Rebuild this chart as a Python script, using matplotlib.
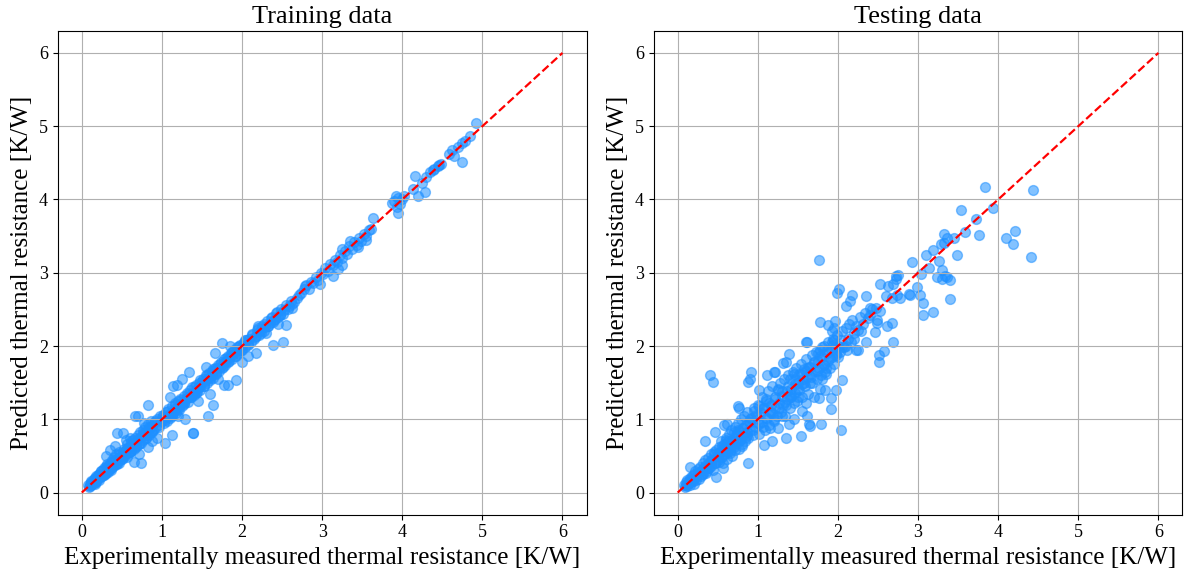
import numpy as np
import matplotlib
matplotlib.use("Agg")
import matplotlib.pyplot as plt

plt.rcParams['font.family'] = ['Liberation Serif', 'DejaVu Serif']

# ---- training data (measured, predicted) ----
train_measured = [
    0.08, 0.09, 0.10, 0.10, 0.11, 0.12, 0.12, 0.13, 0.14, 0.15,
    0.15, 0.16, 0.17, 0.18, 0.18, 0.19, 0.20, 0.21, 0.22, 0.22,
    0.23, 0.24, 0.25, 0.26, 0.27, 0.28, 0.29, 0.30, 0.30, 0.31,
    0.32, 0.33, 0.34, 0.35, 0.36, 0.37, 0.38, 0.38, 0.39, 0.40,
    0.41, 0.42, 0.43, 0.44, 0.45, 0.46, 0.47, 0.48, 0.49, 0.50,
    0.51, 0.52, 0.53, 0.54, 0.55, 0.56, 0.57, 0.58, 0.59, 0.60,
    0.61, 0.62, 0.63, 0.64, 0.65, 0.66, 0.67, 0.68, 0.69, 0.70,
    0.71, 0.72, 0.73, 0.74, 0.75, 0.76, 0.77, 0.78, 0.79, 0.80,
    0.81, 0.82, 0.83, 0.84, 0.85, 0.86, 0.87, 0.88, 0.89, 0.90,
    0.92, 0.94, 0.96, 0.98, 1.00,
    1.01, 1.02, 1.03, 1.05, 1.06, 1.07, 1.08, 1.10, 1.11, 1.12,
    1.13, 1.15, 1.16, 1.17, 1.18, 1.20, 1.21, 1.22, 1.23, 1.25,
    1.26, 1.27, 1.28, 1.30, 1.31, 1.32, 1.33, 1.35, 1.36, 1.37,
    1.38, 1.40, 1.41, 1.42, 1.43, 1.45, 1.46, 1.47, 1.48, 1.50,
    1.51, 1.52, 1.54, 1.55, 1.56, 1.58, 1.59, 1.60, 1.62, 1.63,
    1.64, 1.66, 1.67, 1.68, 1.70, 1.71, 1.72, 1.74, 1.75, 1.76,
    1.78, 1.79, 1.80, 1.82, 1.83, 1.84, 1.86, 1.87, 1.88, 1.90,
    1.91, 1.92, 1.94, 1.95, 1.96, 1.98, 1.99, 2.00, 2.02, 2.04,
    2.05, 2.07, 2.09, 2.11, 2.13, 2.15, 2.17, 2.19, 2.21, 2.23,
    2.25, 2.27, 2.29, 2.31, 2.33, 2.35, 2.37, 2.39, 2.41, 2.43,
    2.45, 2.47, 2.49, 2.51, 2.53, 2.55, 2.57, 2.59, 2.61, 2.63,
    2.65, 2.68, 2.71, 2.74, 2.77,
    2.80, 2.83, 2.86, 2.89, 2.92, 2.95, 2.98, 3.01, 3.04, 3.07,
    3.10, 3.13, 3.16, 3.19, 3.22, 3.25, 3.28, 3.31, 3.34, 3.37,
    3.40, 3.43, 3.46, 3.49, 3.52, 3.55, 3.58, 3.61, 3.25, 3.35,
    # second pass through the dense band
    0.12, 0.16, 0.20, 0.24, 0.28, 0.32, 0.36, 0.40, 0.44, 0.48,
    0.52, 0.56, 0.60, 0.64, 0.68, 0.72, 0.76, 0.80, 0.84, 0.88,
    0.92, 0.96, 1.00, 1.04, 1.08, 1.12, 1.16, 1.20, 1.24, 1.28,
    1.32, 1.36, 1.40, 1.44, 1.48, 1.52, 1.56, 1.60, 1.64, 1.68,
    1.72, 1.76, 1.80, 1.84, 1.88, 1.92, 1.96, 2.00, 2.04, 2.08,
    2.12, 2.16, 2.20, 2.24, 2.28, 2.32, 2.36, 2.40, 2.44, 2.48,
    # scattered points
    0.44, 0.51, 0.41, 0.35, 0.30,
    0.74, 0.65, 0.83, 0.94, 0.66, 0.70, 0.83, 0.60, 0.72, 0.55, 0.78, 0.88,
    1.13, 1.04, 1.39, 1.39, 1.29, 1.57, 1.64, 1.14, 1.19, 1.25, 1.34, 1.20, 1.45, 1.10,
    1.75, 1.66, 1.77, 1.83, 1.92, 2.00, 2.07, 2.18, 1.60, 1.70, 1.85, 1.55,
    2.55, 2.51, 2.39, 2.78, 2.30, 2.45, 2.62, 2.20,
    2.97, 3.14, 3.25, 3.64, 3.20, 3.45, 3.55,
    3.87, 3.92, 3.95, 3.97, 3.95, 4.00, 3.90, 4.02, 3.93,
    4.14, 4.16, 4.20, 4.28, 4.25, 4.30,
    4.35, 4.40, 4.44, 4.48, 4.38, 4.46,
    4.58, 4.62, 4.65, 4.70, 4.75, 4.78, 4.74, 4.84, 4.92,
]
train_predicted = [
    0.10, 0.08, 0.12, 0.09, 0.13, 0.11, 0.15, 0.12, 0.16, 0.13,
    0.18, 0.14, 0.20, 0.15, 0.22, 0.18, 0.24, 0.17, 0.26, 0.20,
    0.21, 0.29, 0.23, 0.31, 0.24, 0.33, 0.26, 0.36, 0.27, 0.30,
    0.39, 0.28, 0.37, 0.32, 0.42, 0.33, 0.45, 0.35, 0.36, 0.48,
    0.38, 0.44, 0.52, 0.40, 0.47, 0.41, 0.55, 0.44, 0.50, 0.46,
    0.55, 0.47, 0.60, 0.50, 0.58, 0.49, 0.66, 0.54, 0.62, 0.56,
    0.70, 0.57, 0.64, 0.72, 0.59, 0.68, 0.75, 0.62, 0.71, 0.78,
    0.66, 0.74, 0.82, 0.68, 0.77, 0.86, 0.72, 0.80, 0.90, 0.75,
    0.84, 0.79, 0.93, 0.78, 0.88, 0.97, 0.82, 0.91, 0.85, 0.95,
    0.88, 1.00, 0.92, 1.04, 0.97,
    1.06, 0.95, 1.02, 1.10, 0.98, 1.05, 1.14, 1.02, 1.09, 1.18,
    1.06, 1.12, 1.22, 1.08, 1.16, 1.25, 1.13, 1.20, 1.28, 1.18,
    1.24, 1.32, 1.21, 1.28, 1.36, 1.24, 1.31, 1.40, 1.30, 1.35,
    1.44, 1.33, 1.39, 1.47, 1.36, 1.43, 1.50, 1.40, 1.46, 1.52,
    1.55, 1.46, 1.52, 1.60, 1.50, 1.57, 1.63, 1.54, 1.66, 1.60,
    1.57, 1.70, 1.62, 1.68, 1.74, 1.66, 1.72, 1.78, 1.70, 1.76,
    1.82, 1.74, 1.80, 1.86, 1.78, 1.84, 1.90, 1.82, 1.88, 1.94,
    1.86, 1.92, 1.98, 1.90, 1.95, 2.02, 1.94, 2.00, 2.05, 1.98,
    2.08, 2.02, 2.10, 2.05, 2.16, 2.09, 2.14, 2.22, 2.15, 2.20,
    2.28, 2.21, 2.26, 2.34, 2.27, 2.32, 2.40, 2.33, 2.37, 2.45,
    2.39, 2.43, 2.50, 2.44, 2.49, 2.56, 2.50, 2.54, 2.62, 2.57,
    2.60, 2.66, 2.70, 2.73, 2.78,
    2.83, 2.78, 2.88, 2.86, 2.94, 2.90, 3.00, 2.98, 3.06, 3.03,
    3.12, 3.10, 3.18, 3.14, 3.24, 3.20, 3.30, 3.26, 3.36, 3.32,
    3.42, 3.38, 3.47, 3.44, 3.53, 3.50, 3.58, 3.60, 3.32, 3.44,
    # second pass through the dense band
    0.16, 0.12, 0.22, 0.30, 0.24, 0.35, 0.31, 0.43, 0.39, 0.53,
    0.50, 0.61, 0.55, 0.68, 0.64, 0.66, 0.81, 0.74, 0.89, 0.82,
    0.97, 0.90, 1.03, 0.99, 1.12, 1.05, 1.20, 1.14, 1.27, 1.22,
    1.35, 1.30, 1.44, 1.37, 1.53, 1.45, 1.60, 1.56, 1.68, 1.63,
    1.76, 1.71, 1.84, 1.79, 1.92, 1.87, 2.00, 1.95, 2.08, 2.03,
    2.15, 2.12, 2.24, 2.18, 2.30, 2.27, 2.38, 2.35, 2.46, 2.42,
    # scattered points
    0.81, 0.81, 0.64, 0.58, 0.50,
    0.41, 0.42, 0.62, 0.74, 1.04, 1.04, 1.20, 0.75, 0.52, 0.72, 0.95, 0.70,
    0.78, 0.67, 0.81, 0.81, 1.01, 1.04, 1.20, 1.46, 1.47, 1.55, 1.65, 1.05, 1.25, 1.30,
    2.04, 1.90, 1.47, 1.47, 1.54, 1.78, 1.86, 1.90, 1.35, 1.55, 2.00, 1.72,
    2.29, 2.06, 2.02, 2.82, 2.18, 2.30, 2.52, 2.28,
    2.84, 2.96, 3.11, 3.75, 3.05, 3.35, 3.45,
    3.95, 4.05, 4.02, 3.94, 3.82, 4.00, 3.98, 4.05, 3.90,
    4.14, 4.32, 4.05, 4.10, 4.22, 4.30,
    4.38, 4.42, 4.45, 4.48, 4.40, 4.47,
    4.62, 4.68, 4.60, 4.72, 4.77, 4.80, 4.51, 4.87, 5.05,
]

# ---- testing data ----
test_measured = [
    0.08, 0.09, 0.10, 0.10, 0.11, 0.12, 0.12, 0.13, 0.14, 0.15,
    0.15, 0.16, 0.17, 0.18, 0.19, 0.20, 0.20, 0.21, 0.22, 0.23,
    0.24, 0.25, 0.26, 0.27, 0.28, 0.29, 0.30, 0.31, 0.32, 0.33,
    0.34, 0.35, 0.36, 0.37, 0.38, 0.39, 0.40, 0.41, 0.42, 0.43,
    0.44, 0.45, 0.46, 0.48, 0.50,
    0.51, 0.52, 0.53, 0.54, 0.55, 0.56, 0.57, 0.58, 0.59, 0.60,
    0.61, 0.62, 0.63, 0.64, 0.65, 0.66, 0.67, 0.68, 0.69, 0.70,
    0.71, 0.72, 0.73, 0.74, 0.75, 0.76, 0.77, 0.78, 0.79, 0.80,
    0.81, 0.82, 0.83, 0.84, 0.85, 0.86, 0.87, 0.88, 0.89, 0.90,
    0.92, 0.94, 0.95, 0.97, 0.99,
    1.00, 1.01, 1.02, 1.04, 1.05, 1.06, 1.08, 1.09, 1.10, 1.12,
    1.13, 1.14, 1.16, 1.17, 1.18, 1.20, 1.21, 1.22, 1.24, 1.25,
    1.26, 1.28, 1.29, 1.30, 1.32, 1.33, 1.34, 1.36, 1.37, 1.38,
    1.40, 1.41, 1.42, 1.44, 1.45, 1.46, 1.47, 1.48, 1.49, 1.50,
    1.51, 1.52, 1.54, 1.55, 1.56, 1.58, 1.59, 1.60, 1.62, 1.63,
    1.64, 1.66, 1.67, 1.68, 1.70, 1.71, 1.72, 1.74, 1.75, 1.76,
    1.78, 1.79, 1.80, 1.82, 1.83, 1.84, 1.86, 1.87, 1.88, 1.90,
    1.91, 1.92, 1.94, 1.95, 1.96, 1.98, 1.99, 2.00, 2.02, 2.04,
    2.05, 2.07, 2.10, 2.12, 2.14, 2.16, 2.18, 2.20, 2.22, 2.25,
    2.28, 2.31, 2.34, 2.37, 2.40,
    # second pass through the dense band
    0.30, 0.34, 0.38, 0.42, 0.46, 0.50, 0.54, 0.58, 0.62, 0.66,
    0.70, 0.74, 0.78, 0.82, 0.86, 0.90, 0.94, 0.98, 1.02, 1.06,
    1.10, 1.14, 1.18, 1.22, 1.26, 1.30, 1.34, 1.38, 1.42, 1.46,
    1.50, 1.54, 1.58, 1.62, 1.66, 1.70, 1.74, 1.78, 1.82, 1.86,
    1.90, 1.94, 1.98, 0.45, 0.55, 0.65, 0.75, 0.85, 0.95, 1.05,
    1.15, 1.25, 1.35, 1.45, 1.55, 1.65, 1.75, 1.85, 1.95, 0.60,
    0.80, 1.00, 1.20, 1.40, 1.60, 1.80, 2.00, 0.70, 0.90, 1.10,
    # scattered points
    3.83, 4.44, 3.53, 3.93, 3.72, 3.59, 3.32, 3.36, 3.76, 4.10, 4.21, 4.18,
    4.41, 3.45, 3.29, 3.33, 3.19, 3.10, 3.49, 3.26, 3.30, 3.14, 2.92, 3.04,
    3.24, 3.30, 3.36, 3.40, 3.34, 2.73, 2.75, 2.72, 2.63, 2.69, 2.52, 2.99,
    2.89, 2.90, 3.03, 3.06, 3.40, 3.06, 3.19, 2.60, 2.68, 2.78, 2.74,
    1.76, 2.01, 1.99, 2.18, 2.15, 2.10, 2.35, 2.43, 2.52, 2.47, 2.40, 2.49,
    2.49, 2.61, 2.67, 2.46, 2.69, 2.35, 2.51, 2.51, 2.57, 2.29, 2.23, 2.25,
    2.05, 2.11, 1.77, 1.87, 1.96, 1.92, 1.92, 2.05, 1.97, 1.91, 1.91,
    2.04, 1.79, 1.64, 1.65, 1.54, 1.61, 1.35, 1.39, 1.76, 1.78, 1.84,
    0.40, 0.44, 0.92, 0.90, 0.88, 1.12, 1.20, 1.22, 1.39, 1.35, 1.32, 1.60, 1.61,
    1.02, 0.75, 0.77, 0.61, 0.58, 0.34, 0.46, 0.88, 0.48, 1.08, 1.18, 0.56, 0.15,
    1.30, 1.50, 1.70, 1.55, 1.25, 1.45, 1.65, 1.85, 1.15, 1.40, 1.80, 1.60,
    2.10, 2.20, 1.95,
]
test_predicted = [
    0.11, 0.08, 0.14, 0.10, 0.12, 0.17, 0.09, 0.15, 0.13, 0.20,
    0.11, 0.18, 0.14, 0.23, 0.16, 0.26, 0.12, 0.20, 0.29, 0.17,
    0.24, 0.32, 0.19, 0.28, 0.35, 0.22, 0.31, 0.40, 0.25, 0.34,
    0.44, 0.27, 0.38, 0.30, 0.47, 0.33, 0.42, 0.52, 0.36, 0.45,
    0.31, 0.55, 0.40, 0.58, 0.44,
    0.62, 0.42, 0.55, 0.70, 0.48, 0.60, 0.40, 0.66, 0.52, 0.75,
    0.58, 0.46, 0.70, 0.80, 0.54, 0.64, 0.85, 0.50, 0.72, 0.62,
    0.90, 0.58, 0.78, 0.68, 0.95, 0.60, 0.84, 0.72, 1.00, 0.66,
    0.88, 0.78, 1.05, 0.70, 0.92, 0.82, 1.10, 0.74, 0.96, 0.86,
    1.02, 0.78, 1.15, 0.90, 1.05,
    0.95, 1.18, 0.80, 1.08, 1.30, 0.90, 1.15, 0.85, 1.25, 1.02,
    1.38, 0.92, 1.20, 1.10, 1.45, 0.98, 1.28, 1.15, 1.05, 1.40,
    1.22, 1.50, 1.10, 1.32, 1.20, 1.55, 1.05, 1.38, 1.28, 1.60,
    1.15, 1.42, 1.30, 1.65, 1.22, 1.48, 1.36, 1.70, 1.25, 1.50,
    1.40, 1.62, 1.75, 1.30, 1.55, 1.68, 1.45, 1.82, 1.58, 1.35,
    1.72, 1.62, 1.88, 1.50, 1.78, 1.66, 1.92, 1.55, 1.80, 1.70,
    1.95, 1.60, 1.85, 1.74, 2.00, 1.65, 1.90, 1.80, 2.05, 1.70,
    1.95, 1.85, 2.10, 1.75, 1.98, 1.88, 2.15, 2.00, 1.92, 2.08,
    2.20, 1.98, 2.25, 2.10, 2.30, 2.05, 2.35, 2.18, 2.28, 2.22,
    2.40, 2.30, 2.45, 2.38, 2.42,
    # second pass through the dense band
    0.26, 0.36, 0.33, 0.45, 0.41, 0.53, 0.48, 0.61, 0.56, 0.70,
    0.65, 0.80, 0.72, 0.88, 0.78, 0.96, 0.85, 1.06, 0.93, 1.15,
    1.02, 1.22, 1.08, 1.30, 1.16, 1.38, 1.24, 1.46, 1.33, 1.55,
    1.42, 1.62, 1.50, 1.70, 1.58, 1.78, 1.66, 1.86, 1.75, 1.95,
    1.84, 2.02, 1.90, 0.52, 0.63, 0.57, 0.86, 0.76, 1.12, 0.96,
    1.10, 1.42, 1.20, 1.62, 1.48, 1.72, 1.90, 1.70, 2.08, 0.72,
    0.64, 1.20, 1.00, 1.30, 1.66, 1.98, 1.85, 0.82, 1.00, 1.28,
    # scattered points
    4.17, 4.13, 3.86, 3.89, 3.73, 3.56, 3.53, 3.47, 3.51, 3.48, 3.57, 3.39,
    3.21, 3.47, 3.39, 3.41, 3.31, 3.24, 3.24, 3.16, 3.04, 3.07, 3.15, 2.98,
    2.94, 2.92, 2.94, 2.90, 2.95, 2.95, 2.97, 2.92, 2.82, 2.85, 2.85, 2.80,
    2.71, 2.70, 2.70, 2.59, 2.64, 2.43, 2.46, 2.68, 2.65, 2.66, 2.70,
    3.17, 2.78, 2.72, 2.69, 2.62, 2.54, 2.68, 2.50, 2.48, 2.52, 2.52, 2.36,
    2.31, 2.28, 2.31, 2.19, 2.06, 2.05, 1.88, 1.78, 1.93, 2.21, 1.95, 1.95,
    1.99, 1.95, 2.33, 2.29, 2.34, 2.06, 2.20, 1.53, 1.40, 1.29, 1.14,
    0.86, 0.94, 0.93, 0.91, 0.77, 1.04, 0.74, 0.94, 1.29, 1.42, 1.40,
    1.60, 1.51, 1.64, 1.55, 1.51, 1.61, 1.65, 1.64, 1.89, 1.78, 1.77, 2.06, 2.05,
    1.40, 1.18, 1.15, 0.94, 0.92, 0.71, 0.82, 0.41, 0.21, 0.65, 0.70, 0.34, 0.35,
    1.05, 1.30, 1.30, 1.12, 0.88, 1.00, 1.50, 1.62, 0.88, 1.55, 1.55, 1.22,
    2.00, 2.10, 2.25,
]

titles = ["Training data", "Testing data"]
xlabel = "Experimentally measured thermal resistance [K/W]"
ylabel = "Predicted thermal resistance [K/W]"
ideal = [0, 6]


def draw_panel(ax, measured, predicted, title):
    ax.scatter(measured, predicted, s=50, color='#1E90FF', alpha=0.55)
    ax.plot(ideal, ideal, 'r--', linewidth=1.6)
    ax.set_title(title, fontsize=19)
    ax.set_xlabel(xlabel, fontsize=18)
    ax.set_ylabel(ylabel, fontsize=18)
    ax.tick_params(labelsize=13)
    ax.grid(True)


fig, axes = plt.subplots(1, 2, figsize=(11.86, 5.73), dpi=100)
draw_panel(axes[0], train_measured, train_predicted, titles[0])
draw_panel(axes[1], test_measured, test_predicted, titles[1])
fig.subplots_adjust(left=0.0487, right=0.997, bottom=0.102, top=0.946, wspace=0.127)
fig.savefig("out.png")
